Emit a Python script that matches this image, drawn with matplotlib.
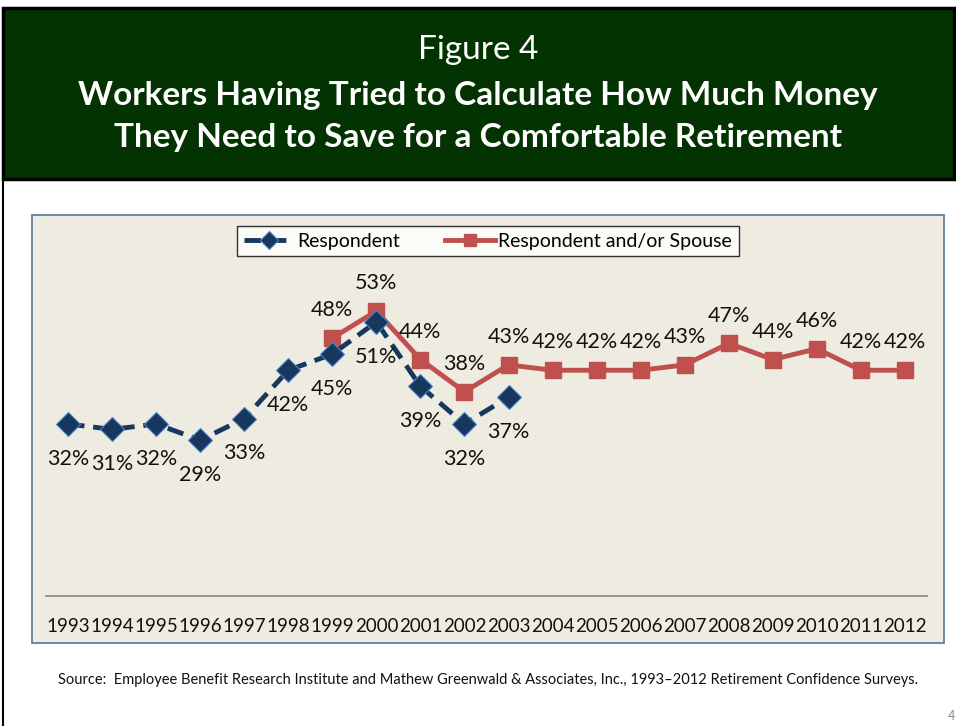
import matplotlib.pyplot as plt
from matplotlib.patches import Rectangle
from matplotlib.lines import Line2D

plt.rcParams["font.family"] = ["Lato", "DejaVu Sans"]

years = list(range(1993, 2013))
resp_years = list(range(1993, 2004))
resp_vals = [32, 31, 32, 29, 33, 42, 45, 51, 39, 32, 37]
spouse_years = list(range(1999, 2013))
spouse_vals = [48, 53, 44, 38, 43, 42, 42, 42, 43, 47, 44, 46, 42, 42]

W, H = 956, 726
BLUE = "#17375E"
BLUE_EDGE = "#4F81BD"
RED = "#C0504D"

fig = plt.figure(figsize=(W / 100, H / 100), dpi=100)
fig.patch.set_facecolor("white")

def px(x, y, w, h):
    # pixel box (top-left origin) -> figure fraction
    return (x / W, 1 - (y + h) / H, w / W, h / H)

# header band
hx, hy, hw, hh = px(3, 8, 951, 171)
fig.patches.append(Rectangle((hx, hy), hw, hh, transform=fig.transFigure,
                             facecolor="#033300", edgecolor="black", linewidth=2.5,
                             zorder=-2))
fig.add_artist(Line2D([3 / W, 3 / W], [0, 1 - 179 / H], transform=fig.transFigure,
                      color="black", linewidth=1.5, zorder=-2))
fig.text(0.5, 1 - 50 / H, "Figure 4", color="white", fontsize=24,
         ha="center", va="center")
fig.text(0.5, 1 - 95 / H, "Workers Having Tried to Calculate How Much Money",
         color="white", fontsize=24, fontweight="bold", ha="center", va="center")
fig.text(0.5, 1 - 138 / H, "They Need to Save for a Comfortable Retirement",
         color="white", fontsize=24, fontweight="bold", ha="center", va="center")

# chart area box
cx, cy, cw, ch = px(32, 215, 912, 428)
fig.patches.append(Rectangle((cx, cy), cw, ch, transform=fig.transFigure,
                             facecolor="#EEECE1", edgecolor="#5A7394", linewidth=1.2,
                             zorder=-2))

# plot area
ax = fig.add_axes(px(46, 273.5, 881, 322.5))
ax.set_facecolor("none")
ax.set_xlim(1992.5, 2012.5)
ax.set_ylim(0, 60)
for s in ["top", "right", "left"]:
    ax.spines[s].set_visible(False)
ax.spines["bottom"].set_color("#868686")
ax.spines["bottom"].set_linewidth(1.2)
ax.set_yticks([])
ax.set_xticks(years)
ax.set_xticklabels([str(y) for y in years], fontsize=13.5, color="#111111")
ax.tick_params(axis="x", length=0, pad=16)

ax.plot(resp_years, resp_vals, color=BLUE, linewidth=3.5, linestyle=(0, (3.4, 1.8)),
        marker="D", markersize=12, markerfacecolor=BLUE, markeredgecolor=BLUE_EDGE,
        markeredgewidth=0.8, label="Respondent", zorder=3, clip_on=False)
ax.plot(spouse_years, spouse_vals, color=RED, linewidth=3.5, marker="s",
        markersize=12, markerfacecolor=RED, markeredgecolor=RED,
        label="Respondent and/or Spouse", zorder=2, clip_on=False)

for x, v in zip(resp_years, resp_vals):
    ax.annotate(f"{v}%", (x, v), xytext=(0, -25), textcoords="offset points",
                ha="center", va="center", fontsize=15.5, color="#111111")
for x, v in zip(spouse_years, spouse_vals):
    ax.annotate(f"{v}%", (x, v), xytext=(0, 20), textcoords="offset points",
                ha="center", va="center", fontsize=15.5, color="#111111")

leg = fig.legend(loc="center", bbox_to_anchor=(488 / W, 1 - 241 / H), ncol=2,
                 fontsize=14, frameon=True, fancybox=False, edgecolor="black",
                 handlelength=2.6, columnspacing=2.3, handletextpad=0.15,
                 borderpad=0.35, markerscale=0.75)
leg.get_frame().set_linewidth(1.0)

fig.text(488 / W, 1 - 680 / H,
         "Source:  Employee Benefit Research Institute and Mathew Greenwald & Associates, "
         "Inc., 1993\u20132012 Retirement Confidence Surveys.",
         fontsize=10.5, ha="center", va="center", color="#111111")
fig.text(951 / W, 1 - 716 / H, "4", fontsize=9, color="#888888", ha="center", va="center")

fig.savefig("out.png", dpi=100)
